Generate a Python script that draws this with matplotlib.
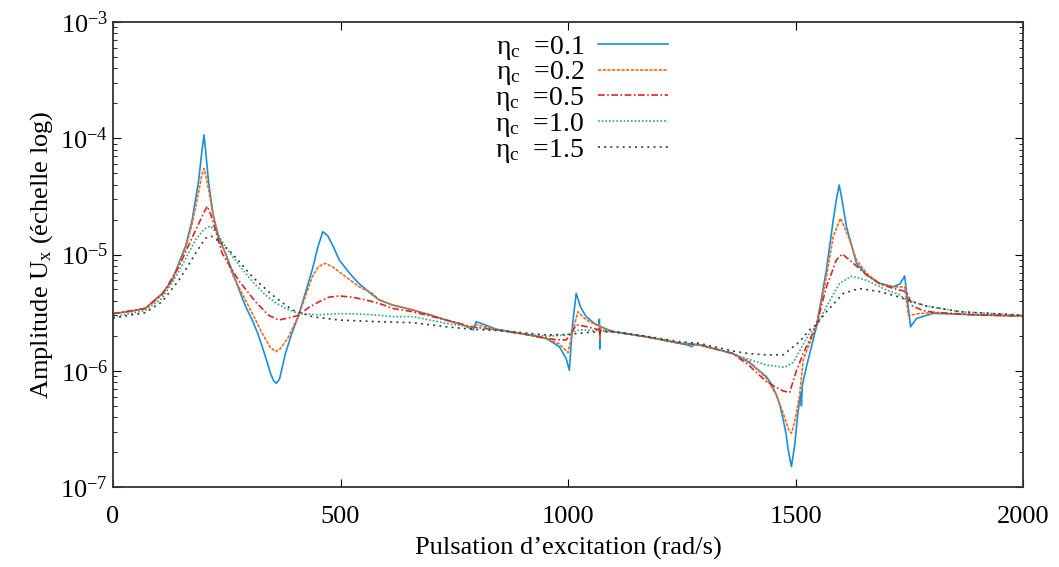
import numpy as np
import matplotlib
matplotlib.use("Agg")
import matplotlib.pyplot as plt

# amplitudes are given in units of 1e-6
w_01 = [0, 40, 71, 108, 130, 144.5, 160, 174, 188.5, 195, 200, 204, 210, 220, 232, 247,
        262, 276, 291, 306, 318, 328, 340, 346, 353, 359, 366, 379, 393, 408, 425, 438,
        450, 461, 472, 485, 497, 520, 540, 570, 585, 614, 659, 700, 732, 765, 787, 792,
        798, 810, 842, 880, 915, 952, 981, 996, 1003, 1010, 1018, 1028, 1040, 1062, 1068,
        1069, 1070, 1071, 1099, 1172, 1245, 1265, 1271, 1278, 1289, 1362, 1399, 1436,
        1447, 1458, 1466, 1473, 1479, 1484, 1491, 1498, 1505, 1509, 1512, 1513, 1515,
        1524, 1546, 1568, 1583, 1590, 1596, 1602, 1612, 1634, 1656, 1685, 1715, 1730,
        1740, 1746, 1753, 1766, 1803, 1900, 2000]
a_01 = [3.1, 3.25, 3.44, 4.63, 6.0, 8.4, 12.0, 19.8, 44, 75, 107, 75, 42, 22, 14, 10.3,
        7.2, 5.1, 3.6, 2.73, 2.1, 1.61, 1.15, 0.95, 0.82, 0.78, 0.85, 1.41, 2.1, 3.0, 5.0, 7.4,
        11.5, 15.7, 14.5, 11.5, 9.0, 6.9, 5.65, 4.5, 4.07, 3.68, 3.33, 3.0, 2.73, 2.52, 2.3, 2.25,
        2.64, 2.55, 2.28, 2.15, 2.03, 1.9, 1.61, 1.27, 1.01, 2.5, 4.63, 3.5, 2.92, 2.48, 2.48,
        2.78, 1.54, 2.4, 2.17, 1.96, 1.72, 1.66, 1.61, 1.68, 1.67, 1.41, 1.17, 0.89,
        0.77, 0.62, 0.5, 0.377, 0.29, 0.208, 0.15, 0.225, 0.42, 0.56, 0.65, 0.50, 0.75,
        1.08, 2.39, 7.4, 19.8, 30, 39.6, 30, 17.3, 8.4, 6.67, 5.65, 5.28, 5.6,
        6.53, 4.07, 2.39, 2.82, 3.12, 3.02, 2.96]

w_02 = [0, 40, 71, 108, 130, 144.5, 160, 174, 188.5, 195, 200, 205, 212, 220, 232, 247,
        262, 276, 291, 310, 328, 345, 357, 368, 386, 408, 425, 438, 452, 467, 485, 511,
        540, 570, 585, 614, 659, 700, 732, 787, 798, 842, 915, 952, 981, 1000, 1010, 1022,
        1035, 1047, 1068, 1069, 1070, 1071, 1099, 1172, 1245, 1289, 1362, 1399, 1436,
        1458, 1473, 1485, 1491, 1498, 1509, 1517, 1546, 1568, 1583, 1599, 1616, 1634,
        1656, 1685, 1715, 1740, 1748, 1753, 1770, 1803, 1900, 2000]
a_02 = [3.1, 3.25, 3.44, 4.6, 5.9, 8.2, 11.5, 18.5, 35, 48, 55, 46, 33, 22, 14.5, 10.2,
        6.8, 5.3, 4.07, 2.9, 2.1, 1.6, 1.46, 1.55, 1.96, 3.0, 4.6, 6.45, 7.9, 8.4, 7.7, 6.45,
        5.3, 4.63, 4.07, 3.68, 3.33, 3.0, 2.73, 2.35, 2.5, 2.27, 2.03, 1.9, 1.7, 1.43, 2.2, 3.22,
        2.85, 2.64, 2.45, 2.5, 1.9, 2.35, 2.17, 1.96, 1.73, 1.67, 1.41, 1.2, 0.86,
        0.62, 0.43, 0.31, 0.29, 0.36, 0.62, 1.24, 2.45, 6.5, 14.3, 20.5, 14.3, 9.0,
        6.9, 5.6, 5.25, 5.28, 3.0, 3.0, 3.1, 3.16, 3.02, 2.96]

w_05 = [0, 71, 108, 144.5, 174, 188.5, 200, 207, 215, 240, 276, 313, 342, 364, 386, 408,
        430, 453, 475, 497, 525, 555, 585, 614, 659, 732, 791, 842, 915, 952, 975, 996,
        1010, 1018, 1040, 1068, 1069, 1070, 1071, 1099, 1172, 1245, 1289, 1362, 1399,
        1436, 1458, 1473, 1487, 1502, 1517, 1546, 1568, 1590, 1603, 1627, 1656, 1685, 1715,
        1744, 1757, 1780, 1803, 1900, 2000]
a_05 = [3.1, 3.44, 4.5, 7.8, 14, 18.5, 23, 26, 22, 10.2, 6.0, 3.93, 3.0, 2.73, 2.85, 3.0,
        3.5, 3.93, 4.3, 4.4, 4.3, 4.07, 3.8, 3.44, 3.22, 2.73, 2.38, 2.25, 2.03, 1.9, 1.85, 1.84,
        2.2, 2.48, 2.4, 2.25, 2.35, 2.05, 2.22, 2.17, 1.96, 1.73, 1.67, 1.41, 1.1,
        0.805, 0.72, 0.67, 0.65, 1.0, 1.41, 2.45, 5.28, 9.0, 10.1, 8.4, 6.67, 5.6, 5.1,
        4.79, 3.6, 3.3, 3.18, 3.02, 2.96]

w_10 = [0, 71, 108, 144.5, 181, 200, 214, 230, 247, 270, 291, 313, 335, 357, 379, 408,
        453, 497, 540, 585, 614, 659, 732, 791, 842, 915, 952, 996, 1025, 1069, 1099,
        1172, 1245, 1289, 1362, 1399, 1436, 1476, 1495, 1509, 1531, 1546, 1568, 1597,
        1623, 1656, 1700, 1729, 1744, 1788, 1861, 2000]
a_10 = [2.9, 3.3, 4.2, 7.1, 13.3, 16.5, 17.6, 15, 11.7, 8.8, 6.9, 5.5, 4.49, 3.85, 3.44, 3.1,
        3.03, 3.1, 3.08, 3.0, 2.92, 2.92, 2.56, 2.37, 2.25, 2.05, 1.98, 2.03, 2.25, 2.2, 2.17,
        1.96, 1.73, 1.67, 1.39, 1.25, 1.12, 1.07, 1.18, 1.48, 2.1, 2.45, 3.56, 5.65,
        6.5, 6.0, 4.95, 4.49, 4.07, 3.6, 3.22, 3.0]

w_15 = [0, 71, 108, 144.5, 165, 181, 203, 216, 235, 262, 306, 350, 394, 438, 497, 585,
        659, 732, 791, 842, 915, 952, 1000, 1050, 1099, 1172, 1245, 1289, 1362, 1399,
        1436, 1473, 1509, 1531, 1546, 1568, 1605, 1641, 1685, 1729, 1744, 1788, 1861, 2000]
a_15 = [2.84, 3.16, 3.93, 6.0, 8.0, 10.2, 13.8, 14.4, 12.8, 10.2, 6.45, 4.49, 3.33, 2.92, 2.73, 2.64,
        2.59, 2.39, 2.27, 2.22, 2.1, 2.03, 2.05, 2.15, 2.17, 1.98, 1.78, 1.72, 1.48, 1.4,
        1.37, 1.37, 1.78, 2.25, 2.5, 3.22, 4.63, 5.1, 4.79, 4.3, 4.07, 3.6, 3.22, 3.0]

labels = ['0.1', '0.2', '0.5', '1.0', '1.5']

plt.rcParams['font.family'] = ['Liberation Serif', 'DejaVu Serif']
plt.rcParams['mathtext.fontset'] = 'custom'
plt.rcParams['mathtext.rm'] = 'Liberation Serif'
plt.rcParams['mathtext.it'] = 'Liberation Serif:italic'

fig = plt.figure(figsize=(10.59, 5.67), dpi=100)
ax = fig.add_axes([113 / 1059, 1 - 487 / 567, 910 / 1059, 465 / 567])

series = [(w_01, a_01), (w_02, a_02), (w_05, a_05), (w_10, a_10), (w_15, a_15)]
colors = ['#1a8fd8', '#f26b1d', '#d62728', '#2ca977', '#3a3a3a']
styles = ['-', (0, (2, 0.8)), (0, (4, 1.5, 1, 1.5)), (0, (1, 1.2)), (0, (1.2, 2.5))]

for (w, a), c, ls, lab in zip(series, colors, styles, labels):
    ax.plot(w, np.array(a) * 1e-6, color=c, linestyle=ls, linewidth=1.2,
            label='η$_\\mathrm{c}$  =' + lab)

ax.set_yscale('log')
ax.set_xlim(0, 2000)
ax.set_ylim(1e-7, 1e-3)
ax.set_xticks([0, 500, 1000, 1500, 2000])
ax.tick_params(which='both', direction='in', top=True, right=True, labelsize=19)
ax.tick_params(axis='x', pad=14)
ax.tick_params(which='major', length=6)
ax.tick_params(which='minor', length=3)
for s in ax.spines.values():
    s.set_linewidth(1.3)
    s.set_color('#333333')

ax.set_xlabel('Pulsation d’excitation (rad/s)', fontsize=19, labelpad=6)
ax.set_ylabel('Amplitude U$_\\mathrm{x}$ (échelle log)', fontsize=19)

ax.legend(loc='upper center', bbox_to_anchor=(0.515, 1.005), frameon=False, markerfirst=False,
          fontsize=20, handlelength=2.5, labelspacing=-0.08, borderpad=0.0, handletextpad=0.5)

plt.savefig('out.png', dpi=100)
